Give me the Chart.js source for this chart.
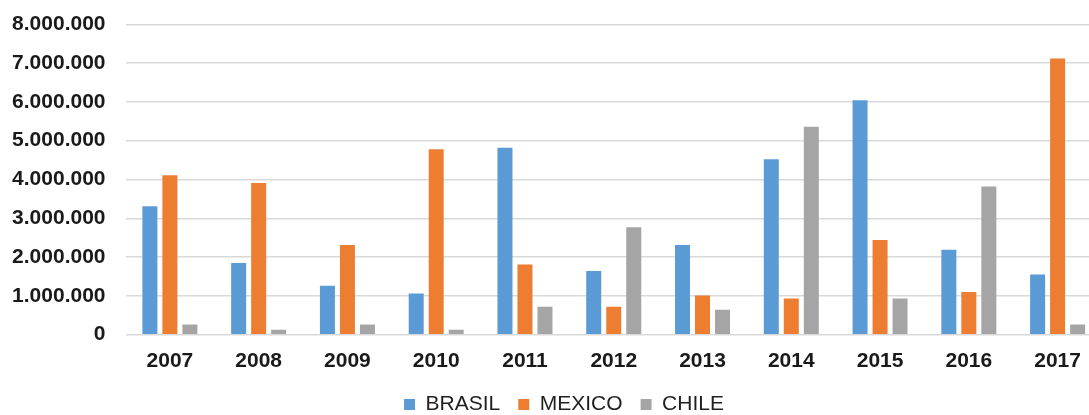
<!DOCTYPE html>
<html>
<head>
<meta charset="utf-8">
<script src="https://cdn.jsdelivr.net/npm/chart.js@4/dist/chart.umd.min.js"></script>
<style>
  html, body { margin: 0; padding: 0; background: #ffffff; overflow: hidden; }
  #wrap { position: relative; width: 1128px; height: 415px; }
</style>
</head>
<body>
<div id="wrap"><canvas id="chart"></canvas></div>
<script>
// Years on the category axis
const years = ['2007', '2008', '2009', '2010', '2011', '2012', '2013', '2014', '2015', '2016', '2017'];

// Yearly values per country
const brasil = [3310000, 1850000, 1260000, 1060000, 4820000, 1640000, 2310000, 4520000, 6040000, 2190000, 1550000];
const mexico = [4110000, 3910000, 2310000, 4780000, 1810000, 720000, 1010000, 930000, 2440000, 1100000, 7120000];
const chile  = [260000, 130000, 260000, 130000, 720000, 2770000, 640000, 5360000, 930000, 3820000, 260000];

// Value axis ticks
const yTicks = [0, 1000000, 2000000, 3000000, 4000000, 5000000, 6000000, 7000000, 8000000];

const FONT = '"Liberation Sans", Arial, sans-serif';

// Thousands separated with dots: 8000000 -> 8.000.000
function dotted(v) {
  return String(Math.round(v)).replace(/\B(?=(\d{3})+(?!\d))/g, '.');
}

// Nudges the legend row right/down so it sits centred under the plot
const legendShift = {
  id: 'legendShift',
  afterLayout(chart) {
    const lg = chart.legend;
    if (!lg) return;
    lg.left += 13;
    lg.right += 13;
    lg.top += 1;
    lg.bottom += 1;
  }
};

new Chart(document.getElementById('chart'), {
  type: 'bar',
  data: {
    labels: years,
    datasets: [
      { label: 'BRASIL', data: brasil, backgroundColor: '#5B9BD5' },
      { label: 'MEXICO', data: mexico, backgroundColor: '#ED7D31' },
      { label: 'CHILE',  data: chile,  backgroundColor: '#A5A5A5' }
    ]
  },
  options: {
    responsive: true,
    maintainAspectRatio: false,
    animation: false,
    datasets: {
      bar: { categoryPercentage: 0.676, barPercentage: 0.75 }
    },
    layout: { padding: { top: 24.3, left: 0, right: 26, bottom: 0 } },
    plugins: {
      tooltip: { enabled: false },
      legend: {
        position: 'bottom',
        maxHeight: 40,
        labels: {
          boxWidth: 11,
          boxHeight: 11,
          padding: 18,
          color: '#1f1f1f',
          font: { family: FONT, size: 21 }
        }
      }
    },
    scales: {
      x: {
        grid: { display: false, drawTicks: false },
        border: { display: false },
        ticks: {
          color: '#1a1a1a',
          padding: 13.5,
          maxRotation: 0,
          font: { family: FONT, size: 21, weight: 'bold' }
        },
        afterFit(scale) { scale.height = 40.3; }
      },
      y: {
        min: 0,
        max: 8000000,
        afterBuildTicks(scale) { scale.ticks = yTicks.map(v => ({ value: v })); },
        grid: { color: '#d9d9d9', lineWidth: 1.5, drawTicks: false },
        border: { display: false },
        ticks: {
          color: '#1a1a1a',
          padding: 20,
          font: { family: FONT, size: 21, weight: 'bold' },
          callback: (v) => dotted(v)
        },
        afterFit(scale) {
          scale.width = 125.5;
          scale.paddingTop = 0;
          scale.paddingBottom = 0;
        }
      }
    }
  },
  plugins: [legendShift]
});
</script>
</body>
</html>
